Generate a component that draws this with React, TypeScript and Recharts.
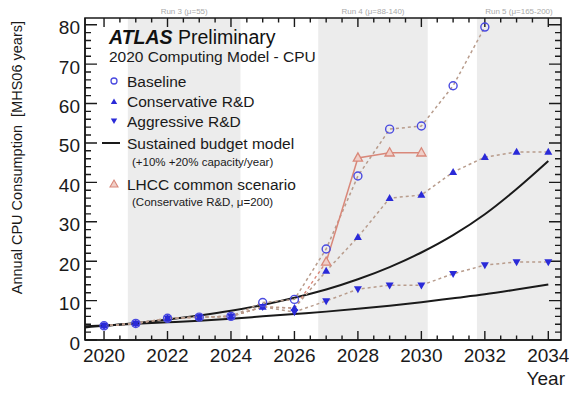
import { LineChart, Line, XAxis, YAxis, ReferenceArea, ReferenceLine, Legend } from "recharts"

// Years shown on the x axis
const years = [2020, 2021, 2022, 2023, 2024, 2025, 2026, 2027, 2028, 2029, 2030, 2031, 2032, 2033, 2034]

// Annual CPU consumption [MHS06 years]
const baseline = [3.6, 4.2, 5.5, 5.8, 6.0, 9.5, 10.3, 23.1, 41.6, 53.5, 54.3, 64.5, 79.4, null, null]
const conservative = [3.6, 4.2, 5.5, 5.8, 6.0, 8.4, 8.1, 17.5, 26.1, 36.0, 36.8, 42.6, 46.4, 47.7, 47.7]
const aggressive = [3.6, 4.2, 5.5, 5.8, 6.0, 8.4, 7.1, 9.9, 12.9, 13.9, 13.9, 16.8, 19.0, 19.8, 19.8]
const lhcc = [3.6, 4.2, 5.5, 5.8, 6.0, 8.4, 8.1, 19.8, 46.2, 47.5, 47.5, null, null, null, null]

// Sustained budget curves (+20% / +10% capacity per year), start at the left frame
const budgetYears = [2019.4, ...years]
const budget20 = [3.2, 3.6, 4.3, 5.2, 6.2, 7.4, 8.9, 10.7, 12.8, 15.4, 18.5, 22.2, 26.6, 31.9, 38.3, 45.4]
const budget10 = [3.5, 3.7, 4.1, 4.5, 4.9, 5.4, 6.0, 6.6, 7.2, 7.9, 8.7, 9.6, 10.6, 11.6, 12.8, 14.1]

// LHC run periods (shaded bands)
const runLabels = ["Run 3 (\u03bc=55)", "Run 4 (\u03bc=88-140)", "Run 5 (\u03bc=165-200)"]
const runStarts = [2020.75, 2026.75, 2031.75]
const runEnds = [2024.3, 2030.2, 2034.4]

const xLabelTicks = [2020, 2022, 2024, 2026, 2028, 2030, 2032, 2034]
const yLabelTicks = [0, 10, 20, 30, 40, 50, 60, 70, 80]

const X_DOMAIN: [number, number] = [2019.4, 2034.4]
const Y_DOMAIN: [number, number] = [0, 81.7]

// minor ticks every half year / every 2 units
const xTicks = Array.from({ length: 29 }, (_, i) => 2020 + i * 0.5)
const yTicks = Array.from({ length: 41 }, (_, i) => i * 2)

const FONT = "'Liberation Sans', Arial, Helvetica, sans-serif"
const INK = "#1a1a1a"
const BLUE = "#2a2ad8"
const CIRCLE = "#4a4ae0"
const DASH = "#b89c8c"
const SALMON = "#d9887a"

const data = budgetYears.map((year, i) => {
  const j = years.indexOf(year)
  const v = (arr: (number | null)[]) => (j >= 0 ? arr[j] : null)
  return {
    year,
    budget20: budget20[i],
    budget10: budget10[i],
    baseline: v(baseline),
    conservative: v(conservative),
    aggressive: v(aggressive),
    lhccEarly: year <= 2027 ? v(lhcc) : null,
    lhccLate: year >= 2027 ? v(lhcc) : null,
  }
})

// Markers
const openCircle = (p: any) =>
  p.cy == null ? <g key={`bc${p.index}`} /> : (
    <circle key={`bc${p.index}`} cx={p.cx} cy={p.cy} r={4} fill="none" stroke={CIRCLE} strokeWidth={1.4} />
  )

const upTriangle = (p: any) =>
  p.cy == null ? <g key={`ut${p.index}`} /> : (
    <path key={`ut${p.index}`} d={`M${p.cx},${p.cy - 4.2} L${p.cx + 4},${p.cy + 2.8} L${p.cx - 4},${p.cy + 2.8} Z`} fill={BLUE} />
  )

const downTriangle = (p: any) =>
  p.cy == null ? <g key={`dt${p.index}`} /> : (
    <path key={`dt${p.index}`} d={`M${p.cx},${p.cy + 4.2} L${p.cx + 4},${p.cy - 2.8} L${p.cx - 4},${p.cy - 2.8} Z`} fill={BLUE} />
  )

const openTriangle = (p: any) =>
  p.cy == null ? <g key={`lt${p.index}`} /> : (
    <path key={`lt${p.index}`} d={`M${p.cx},${p.cy - 5} L${p.cx + 4.6},${p.cy + 3.2} L${p.cx - 4.6},${p.cy + 3.2} Z`} fill="#f0cfc8" stroke={SALMON} strokeWidth={1.3} />
  )

// tick labels only; the tick marks are drawn inside the frame below
const BottomLabel = ({ x, y, payload }: any) => (
  <text x={x} y={y + 22} textAnchor="middle" fontSize={19} fill={INK} fontFamily={FONT}>
    {payload.value}
  </text>
)

const LeftLabel = ({ x, y, payload }: any) => (
  <text x={x - 5} y={y + 3} textAnchor="end" dominantBaseline="central" fontSize={19} fill={INK} fontFamily={FONT}>
    {payload.value}
  </text>
)

// ROOT style tick marks on all four sides of the frame
const xTickShape = (len: number) => (p: any) => {
  const bottom = Math.max(p.y1, p.y2)
  const top = Math.min(p.y1, p.y2)
  return <path d={`M${p.x1},${bottom} V${bottom - len} M${p.x1},${top} V${top + len}`} stroke={INK} strokeWidth={1.4} fill="none" />
}

const yTickShape = (len: number) => (p: any) => {
  const left = Math.min(p.x1, p.x2)
  const right = Math.max(p.x1, p.x2)
  return <path d={`M${left},${p.y1} H${left + len} M${right},${p.y1} H${right - len}`} stroke={INK} strokeWidth={1.4} fill="none" />
}

const renderLegend = () => (
  <svg width={270} height={195} style={{ overflow: "visible", fontFamily: FONT }}>
    <text x={9} y={17} dominantBaseline="central" fontSize={19.5} fill="#111">
      <tspan fontWeight="bold" fontStyle="italic">ATLAS</tspan> Preliminary
    </text>
    <text x={9} y={36} dominantBaseline="central" fontSize={15.5} fill={INK}>2020 Computing Model - CPU</text>

    <circle cx={14} cy={61} r={3} fill="none" stroke={CIRCLE} strokeWidth={1.3} />
    <text x={27} y={61} dominantBaseline="central" fontSize={15.5} fill={INK}>Baseline</text>

    <path d="M14,78.5 L17.2,84 L10.8,84 Z" fill={BLUE} />
    <text x={27} y={81.5} dominantBaseline="central" fontSize={15.5} fill={INK}>Conservative R&amp;D</text>

    <path d="M14,104 L17.2,98.5 L10.8,98.5 Z" fill={BLUE} />
    <text x={27} y={101} dominantBaseline="central" fontSize={15.5} fill={INK}>Aggressive R&amp;D</text>

    <line x1={2} x2={20} y1={123} y2={123} stroke={INK} strokeWidth={2} />
    <text x={27} y={123} dominantBaseline="central" fontSize={15.5} fill={INK}>Sustained budget model</text>
    <text x={32} y={142} dominantBaseline="central" fontSize={11.5} fill={INK}>(+10% +20% capacity/year)</text>

    <path d="M14,160 L18,167 L10,167 Z" fill="#f0cfc8" stroke={SALMON} strokeWidth={1.1} />
    <text x={27} y={164} dominantBaseline="central" fontSize={15.5} fill={INK}>LHCC common scenario</text>
    <text x={32} y={182} dominantBaseline="central" fontSize={11.5} fill={INK}>(Conservative R&amp;D, {"\u03bc"}=200)</text>
  </svg>
)

const YearLabel = ({ viewBox }: any) => (
  <text x={viewBox.x + viewBox.width + 4} y={viewBox.y + 45} textAnchor="end" fontSize={19} fill={INK} fontFamily={FONT}>
    Year
  </text>
)

const YTitle = ({ viewBox }: any) => {
  const x = viewBox.x + 17
  const y = viewBox.y + 3
  return (
    <text x={x} y={y} transform={`rotate(-90, ${x}, ${y})`} textAnchor="end" dominantBaseline="central" fontSize={14.5} fill={INK} fontFamily={FONT} style={{ whiteSpace: "pre" }}>
      Annual CPU Consumption  [MHS06 years]
    </text>
  )
}

export default function App() {
  return (
    <div style={{ position: "absolute", left: 0, top: 0, background: "#fff", fontFamily: FONT }}>
      <LineChart width={569} height={399} data={data} margin={{ top: 18, right: 8, bottom: 0, left: 0 }}>
        {runLabels.map((label, i) => (
          <ReferenceArea
            key={label}
            x1={runStarts[i]}
            x2={runEnds[i]}
            fill="#ececec"
            fillOpacity={1}
            stroke="none"
            label={{ value: label, position: "top", offset: 4, fill: "#aaa", fontSize: 8 }}
          />
        ))}

        <XAxis
          dataKey="year"
          type="number"
          domain={X_DOMAIN}
          allowDataOverflow
          ticks={xLabelTicks}
          interval={0}
          tickLine={false}
          tickSize={0}
          tickMargin={0}
          height={59}
          axisLine={{ stroke: INK, strokeWidth: 1.5 }}
          tick={BottomLabel}
          label={{ content: YearLabel }}
        />
        <YAxis
          type="number"
          domain={Y_DOMAIN}
          allowDataOverflow
          ticks={yLabelTicks}
          interval={0}
          tickLine={false}
          tickSize={0}
          tickMargin={0}
          width={85}
          axisLine={{ stroke: INK, strokeWidth: 1.5 }}
          tick={LeftLabel}
          label={{ content: YTitle }}
        />

        <Line dataKey="budget10" type="monotone" stroke={INK} strokeWidth={2} dot={false} isAnimationActive={false} />
        <Line dataKey="budget20" type="monotone" stroke={INK} strokeWidth={2} dot={false} isAnimationActive={false} />

        <Line dataKey="lhccEarly" stroke={SALMON} strokeWidth={1.4} strokeDasharray="3 3" dot={false} isAnimationActive={false} />
        <Line dataKey="aggressive" stroke={DASH} strokeWidth={1.5} strokeDasharray="3 3" dot={downTriangle} isAnimationActive={false} />
        <Line dataKey="conservative" stroke={DASH} strokeWidth={1.5} strokeDasharray="3 3" dot={upTriangle} isAnimationActive={false} />
        <Line dataKey="baseline" stroke={DASH} strokeWidth={1.5} strokeDasharray="3 3" dot={openCircle} isAnimationActive={false} />
        <Line dataKey="lhccLate" stroke={SALMON} strokeWidth={1.5} dot={openTriangle} isAnimationActive={false} />

        {xTicks.map((t) => (
          <ReferenceLine key={`xt${t}`} x={t} shape={xTickShape(xLabelTicks.includes(t) ? 9 : 4.5)} />
        ))}
        {yTicks.map((t) => (
          <ReferenceLine key={`yt${t}`} y={t} shape={yTickShape(yLabelTicks.includes(t) ? 12 : 6)} />
        ))}

        {/* plot frame */}
        <ReferenceArea x1={X_DOMAIN[0]} x2={X_DOMAIN[1]} y1={Y_DOMAIN[0]} y2={Y_DOMAIN[1]} fill="none" stroke={INK} strokeWidth={1.6} />

        <Legend
          layout="vertical"
          align="center"
          verticalAlign="middle"
          wrapperStyle={{ left: 100, top: 20, width: 270, height: 195 }}
          content={renderLegend}
        />
      </LineChart>
    </div>
  )
}
